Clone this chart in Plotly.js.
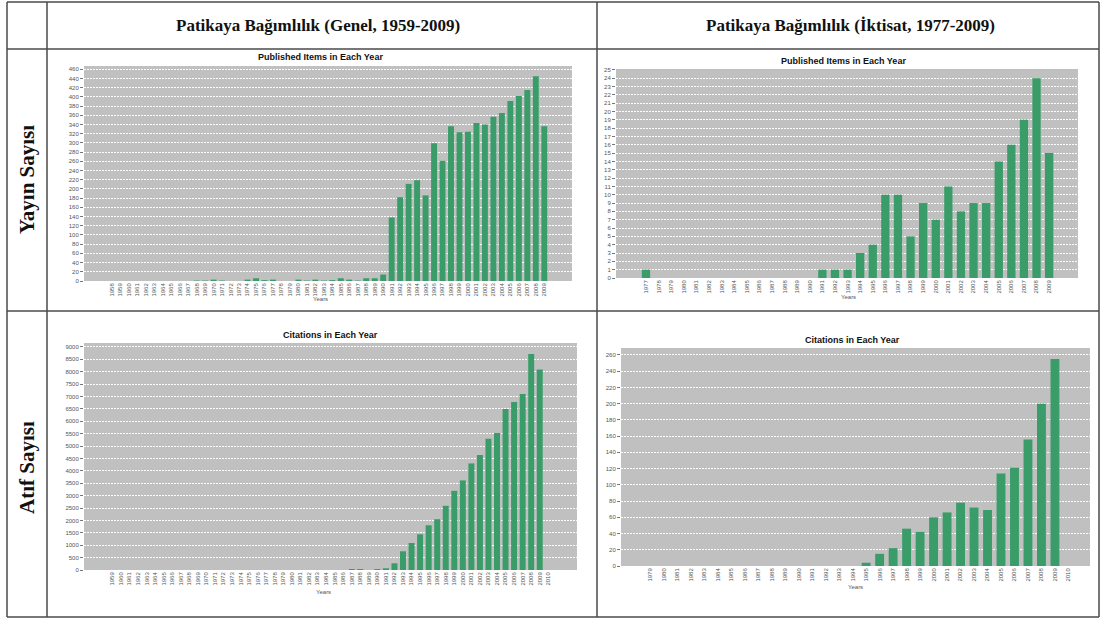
<!DOCTYPE html>
<html>
<head>
<meta charset="utf-8">
<script src="https://cdn.plot.ly/plotly-3.0.1.min.js"></script>
<style>html,body{margin:0;padding:0;background:#fff;}#chart{width:1104px;height:619px;}</style>
</head>
<body>
<div id="chart"></div>
<script>
// ---- Data ----
const headerLeft = "Patikaya Bağımlılık (Genel, 1959-2009)";
const headerRight = "Patikaya Bağımlılık (İktisat, 1977-2009)";
const rowTop = "Yayın Sayısı";
const rowBottom = "Atıf Sayısı";
const titlePub = "Published Items in Each Year";
const titleCit = "Citations in Each Year";
const axisLabel = "Years";

const yearsPubGen = [1958,1959,1960,1961,1962,1963,1964,1965,1966,1967,1968,1969,1970,1971,1972,1973,1974,1975,1976,1977,1978,1979,1980,1981,1982,1983,1984,1985,1986,1987,1988,1989,1990,1991,1992,1993,1994,1995,1996,1997,1998,1999,2000,2001,2002,2003,2004,2005,2006,2007,2008,2009];
const pubGen = [0,0,0,0,0,0,0,0,0,0,1,1,3,1,0,0,3,6,2,3,0,0,3,1,3,1,2,6,3,1,6,6,14,138,182,211,219,186,299,261,336,323,324,343,340,357,365,391,402,415,445,336];

const yearsPubEco = [1977,1978,1979,1980,1981,1982,1983,1984,1985,1986,1987,1988,1989,1990,1991,1992,1993,1994,1995,1996,1997,1998,1999,2000,2001,2002,2003,2004,2005,2006,2007,2008,2009];
const pubEco = [1,0,0,0,0,0,0,0,0,0,0,0,0,0,1,1,1,3,4,10,10,5,9,7,11,8,9,9,14,16,19,24,15];

const yearsCitGen = [1959,1960,1961,1962,1963,1964,1965,1966,1967,1968,1969,1970,1971,1972,1973,1974,1975,1976,1977,1978,1979,1980,1981,1982,1983,1984,1985,1986,1987,1988,1989,1990,1991,1992,1993,1994,1995,1996,1997,1998,1999,2000,2001,2002,2003,2004,2005,2006,2007,2008,2009,2010];
const citGen = [0,0,0,0,0,0,0,0,0,0,0,0,0,0,0,0,0,0,0,0,0,0,0,0,0,0,0,0,40,40,0,40,70,270,755,1090,1440,1805,2050,2590,3195,3615,4300,4640,5300,5525,6500,6780,7105,8720,8090,0];

const yearsCitEco = [1979,1980,1981,1982,1983,1984,1985,1986,1987,1988,1989,1990,1991,1992,1993,1994,1995,1996,1997,1998,1999,2000,2001,2002,2003,2004,2005,2006,2007,2008,2009,2010];
const citEco = [0,0,0,0,0,0,0,0,0,0,0,0,0,0,0,0,4,15,22,46,42,60,66,78,72,69,114,121,156,200,255,0];

const ticksPubGen = [0,20,40,60,80,100,120,140,160,180,200,220,240,260,280,300,320,340,360,380,400,420,440,460];
const ticksPubEco = [0,1,2,3,4,5,6,7,8,9,10,11,12,13,14,15,16,17,18,19,20,21,22,23,24,25];
const ticksCitGen = [0,500,1000,1500,2000,2500,3000,3500,4000,4500,5000,5500,6000,6500,7000,7500,8000,8500,9000];
const ticksCitEco = [0,20,40,60,80,100,120,140,160,180,200,220,240,260];

// ---- Layout helpers ----
const W = 1104, H = 619;
const px = x => x / W;
const py = y => 1 - y / H;
const GREEN = '#3a9d69';
const tickFont = {family: 'Liberation Sans, Arial, sans-serif', size: 6, color: '#555'};

function xaxisCfg(dom, range, years, anchor) {
  return {domain: [px(dom[0]), px(dom[1])], range: range, type: 'linear', anchor: anchor,
    tickmode: 'array', tickvals: years, ticktext: years.map(String),
    tickangle: -90, tickfont: tickFont, showgrid: false, zeroline: false,
    ticks: '', showline: false, fixedrange: true};
}
function yaxisCfg(dom, range, ticks, anchor) {
  return {domain: [py(dom[1]), py(dom[0])], range: range, anchor: anchor, tickmode: 'array',
    tickvals: ticks, ticktext: ticks.map(String), tickfont: tickFont,
    showgrid: true, gridcolor: 'rgba(255,255,255,0.95)', gridwidth: 1, griddash: '2px,1px',
    zeroline: false, ticks: 'outside', ticklen: 3, tickcolor: '#777', showline: false, fixedrange: true};
}

const traces = [
  {type: 'bar', x: yearsPubGen, y: pubGen, xaxis: 'x', yaxis: 'y', width: 0.7, marker: {color: GREEN}, hoverinfo: 'x+y'},
  {type: 'bar', x: yearsPubEco, y: pubEco, xaxis: 'x2', yaxis: 'y2', width: 0.66, marker: {color: GREEN}, hoverinfo: 'x+y'},
  {type: 'bar', x: yearsCitGen, y: citGen, xaxis: 'x3', yaxis: 'y3', width: 0.7, marker: {color: GREEN}, hoverinfo: 'x+y'},
  {type: 'bar', x: yearsCitEco, y: citEco, xaxis: 'x4', yaxis: 'y4', width: 0.66, marker: {color: GREEN}, hoverinfo: 'x+y'}
];

const lineStyle = {color: '#4a4a4a', width: 1.5};
const vlines = [7, 47, 597, 1099];
const hlines = [2, 49, 311, 617];
const shapes = [];
vlines.forEach(x => shapes.push({type: 'line', xref: 'paper', yref: 'paper', x0: px(x), x1: px(x), y0: py(2), y1: py(617), line: lineStyle}));
hlines.forEach(y => shapes.push({type: 'line', xref: 'paper', yref: 'paper', x0: px(7), x1: px(1099), y0: py(y), y1: py(y), line: lineStyle}));

const serif = 'Liberation Serif, Times New Roman, serif';
const sans = 'Liberation Sans, Arial, sans-serif';
function ann(text, x, y, font, extra) {
  return Object.assign({text: text, xref: 'paper', yref: 'paper', x: px(x), y: py(y),
    xanchor: 'center', yanchor: 'middle', showarrow: false, font: font}, extra || {});
}
const headFont = {family: serif, size: 17, color: '#111', weight: 'bold'};
const rowFont = {family: serif, size: 21, color: '#111', weight: 'bold'};
const titleFont = {family: sans, size: 9, color: '#111', weight: 'bold'};
const yearsFont = {family: sans, size: 6, color: '#555'};

const annotations = [
  ann(headerLeft, 318, 26, headFont),
  ann(headerRight, 850, 26, headFont),
  ann(rowTop, 27, 180, rowFont, {textangle: -90}),
  ann(rowBottom, 27, 468, rowFont, {textangle: -90}),
  ann(titlePub, 320, 57, titleFont),
  ann(titlePub, 843, 61, titleFont),
  ann(titleCit, 330, 335, titleFont),
  ann(titleCit, 852, 340, titleFont),
  ann(axisLabel, 320, 299, yearsFont),
  ann(axisLabel, 848, 297, yearsFont),
  ann(axisLabel, 323, 592, yearsFont),
  ann(axisLabel, 855, 587, yearsFont)
];

const layout = {
  width: W, height: H, margin: {l: 0, r: 0, t: 0, b: 0},
  paper_bgcolor: '#ffffff', plot_bgcolor: '#c0c0c0',
  showlegend: false, bargap: 0.3,
  xaxis: xaxisCfg([84, 572], [1954.71, 2012.27], yearsPubGen, 'y'),
  yaxis: yaxisCfg([66, 281], [0, 467], ticksPubGen, 'x'),
  xaxis2: xaxisCfg([616, 1078], [1974.62, 2011.29], yearsPubEco, 'y2'),
  yaxis2: yaxisCfg([69, 278], [0, 25.1], ticksPubEco, 'x2'),
  xaxis3: xaxisCfg([84, 577], [1955.67, 2013.36], yearsCitGen, 'y3'),
  yaxis3: yaxisCfg([343, 570], [0, 9160], ticksCitGen, 'x3'),
  xaxis4: xaxisCfg([621, 1090], [1976.82, 2011.6], yearsCitEco, 'y4'),
  yaxis4: yaxisCfg([348, 566], [0, 268.6], ticksCitEco, 'x4'),
  shapes: shapes,
  annotations: annotations
};

Plotly.newPlot('chart', traces, layout, {displayModeBar: false, staticPlot: true});
</script>
</body>
</html>
